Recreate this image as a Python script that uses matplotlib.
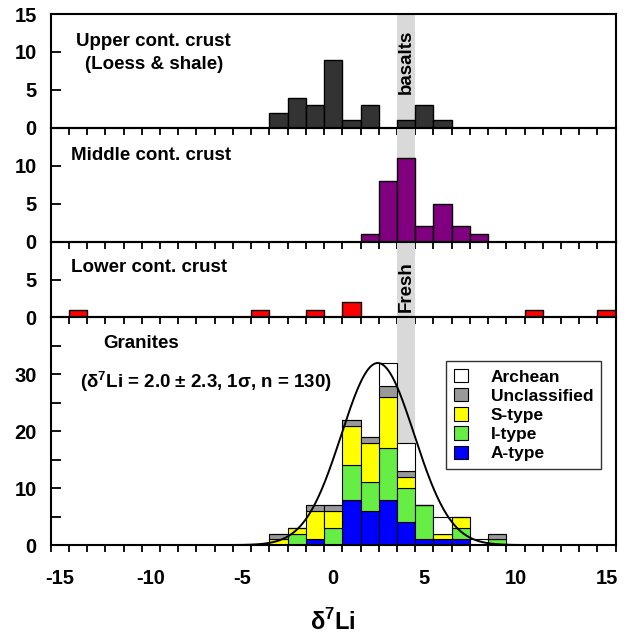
import numpy as np
import matplotlib
matplotlib.use("Agg")
import matplotlib.pyplot as plt
from matplotlib.patches import Patch
from matplotlib.ticker import FixedLocator

plt.rcParams['font.family'] = ['Liberation Sans', 'DejaVu Sans']
plt.rcParams['font.weight'] = 'bold'
plt.rcParams['axes.labelweight'] = 'bold'
plt.rcParams['axes.unicode_minus'] = False
plt.rcParams['mathtext.fontset'] = 'custom'
plt.rcParams['mathtext.rm'] = 'Liberation Sans:bold'
plt.rcParams['mathtext.bf'] = 'Liberation Sans:bold'

# histogram bins (bin centres, width 1)
upper_x = [-3, -2, -1, 0, 1, 2, 4, 5, 6]
upper_n = [2, 4, 3, 9, 1, 3, 1, 3, 1]

middle_x = [2, 3, 4, 5, 6, 7, 8]
middle_n = [1, 8, 11, 2, 5, 2, 1]

lower_x = [-14, -4, -1, 1, 11, 15]
lower_n = [1, 1, 1, 2, 1, 1]

granite_x = [-3, -2, -1, 0, 1, 2, 3, 4, 5, 6, 7, 8, 9]
a_type = [0, 0, 1, 0, 8, 6, 8, 4, 1, 1, 1, 0, 0]
i_type = [0, 2, 0, 3, 6, 5, 9, 6, 6, 0, 2, 0, 1]
s_type = [1, 1, 5, 3, 7, 7, 9, 2, 0, 1, 2, 0, 0]
unclassified = [1, 0, 1, 1, 1, 1, 2, 1, 0, 0, 0, 0, 1]
archean = [0, 0, 0, 0, 0, 0, 4, 5, 0, 3, 0, 1, 0]

granite_layers = [("A-type", a_type, "#0000ff"),
                  ("I-type", i_type, "#66ee44"),
                  ("S-type", s_type, "#ffff00"),
                  ("Unclassified", unclassified, "#999999"),
                  ("Archean", archean, "#ffffff")]

# fitted normal curve drawn over granites
curve_mu, curve_sigma, curve_peak = 2.45, 2.0, 32.0

fig = plt.figure(figsize=(6.34, 6.39), dpi=100)
gs = fig.add_gridspec(4, 1, height_ratios=[15, 15, 10, 30], hspace=0,
                      left=0.080, right=0.971, top=0.978, bottom=0.147)
axes = [fig.add_subplot(gs[i]) for i in range(4)]
ax_up, ax_mid, ax_low, ax_gr = axes

for ax in axes:
    ax.patch.set_visible(False)
    ax.axvspan(3.5, 4.5, color="#d9d9d9", zorder=0, lw=0)
    ax.set_xlim(-15.5, 15.5)
    ax.xaxis.set_major_locator(FixedLocator(range(-15, 16, 5)))
    ax.xaxis.set_minor_locator(FixedLocator(np.arange(-15.5, 15.6, 1)))
    ax.tick_params(axis='x', which='major', length=0, pad=17, labelsize=14.5)
    ax.tick_params(axis='x', which='minor', direction='out', length=5, width=1.3)
    ax.tick_params(axis='y', which='both', direction='in', length=7, width=1.3,
                   pad=10, labelsize=14.5)
    for s in ax.spines.values():
        s.set_linewidth(1.5)
    if ax is not ax_gr:
        ax.tick_params(axis='x', which='both', labelbottom=False)

ax_up.bar(upper_x, upper_n, width=1, color="#333333", edgecolor="black", lw=1, zorder=2)
ax_up.set_ylim(0, 15)
ax_up.set_yticks([0, 5, 10, 15])
ax_up.text(-9.85, 11.4, "Upper cont. crust", ha="center", va="center", fontsize=13.5)
ax_up.text(-9.85, 8.3, "(Loess & shale)", ha="center", va="center", fontsize=13.5)
ax_up.text(4.0, 8.7, "basalts", rotation=90, ha="center", va="center", fontsize=13.5)

ax_mid.bar(middle_x, middle_n, width=1, color="#800080", edgecolor="black", lw=1, zorder=2)
ax_mid.set_ylim(0, 15)
ax_mid.set_yticks([0, 5, 10])
ax_mid.text(-14.4, 11.3, "Middle cont. crust", ha="left", va="center", fontsize=13.5)

ax_low.bar(lower_x, lower_n, width=1, color="#ff0000", edgecolor="black", lw=1, zorder=2)
ax_low.set_ylim(0, 10)
ax_low.set_yticks([0, 5])
ax_low.text(-14.4, 6.6, "Lower cont. crust", ha="left", va="center", fontsize=13.5)
ax_low.text(4.0, 4.1, "Fresh", rotation=90, ha="center", va="center", fontsize=13.5)

bottom = np.zeros(len(granite_x))
for name, vals, col in granite_layers:
    ax_gr.bar(granite_x, vals, width=1, bottom=bottom, color=col,
              edgecolor="black", lw=0.8, zorder=2)
    bottom += np.array(vals)

xs = np.linspace(-6, 11, 400)
ax_gr.plot(xs, curve_peak * np.exp(-0.5 * ((xs - curve_mu) / curve_sigma) ** 2),
           color="black", lw=1.4, zorder=3)
ax_gr.set_ylim(0, 40)
ax_gr.yaxis.set_major_locator(FixedLocator([0, 10, 20, 30]))
ax_gr.yaxis.set_minor_locator(FixedLocator([5, 15, 25, 35]))
ax_gr.text(-12.6, 35.4, "Granites", ha="left", va="center", fontsize=13.5)
ax_gr.text(-13.9, 28.8, "(δ$^{7}$Li = 2.0 ± 2.3, 1σ, n = 130)",
           ha="left", va="center", fontsize=13.5)
ax_gr.set_xlabel("δ$^{7}$Li", fontsize=17, fontweight="bold", labelpad=15)

handles = [Patch(facecolor=col, edgecolor="black", lw=0.8, label=name)
           for name, vals, col in reversed(granite_layers)]
leg = ax_gr.legend(handles=handles, loc="upper right", bbox_to_anchor=(0.974, 0.808),
                   fontsize=12.5, frameon=True, fancybox=False, handlelength=0.8,
                   handleheight=0.8, handletextpad=1.3, labelspacing=0.2,
                   borderpad=0.45, borderaxespad=0)
leg.get_frame().set_edgecolor("black")
leg.get_frame().set_linewidth(1.0)
leg.set_zorder(5)

fig.savefig("out.png", dpi=100)
